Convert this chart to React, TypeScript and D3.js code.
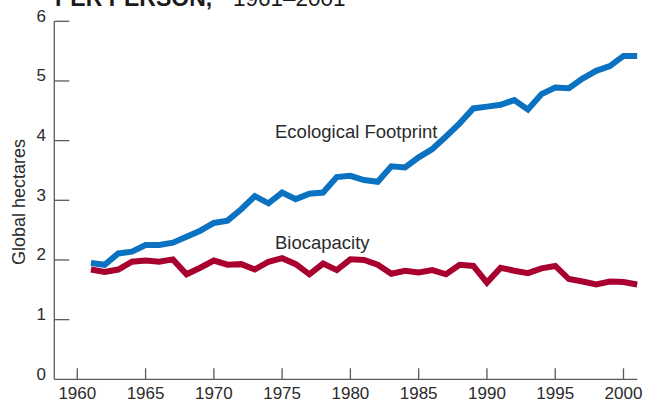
import React from "react";
import * as d3 from "d3";

const years: number[] = d3.range(1961, 2002);
const footprint: number[] = [
  1.95, 1.92, 2.11, 2.14, 2.25, 2.25, 2.29, 2.39, 2.49, 2.62,
  2.66, 2.85, 3.07, 2.95, 3.13, 3.02, 3.11, 3.13, 3.39, 3.41,
  3.34, 3.31, 3.57, 3.55, 3.72, 3.86, 4.07, 4.29, 4.54, 4.57,
  4.60, 4.68, 4.52, 4.78, 4.89, 4.88, 5.04, 5.17, 5.25, 5.42, 5.42,
];
const biocapacity: number[] = [
  1.84, 1.80, 1.84, 1.97, 1.99, 1.97, 2.01, 1.76, 1.87, 1.99,
  1.92, 1.93, 1.84, 1.97, 2.03, 1.93, 1.76, 1.94, 1.83, 2.01,
  2.00, 1.92, 1.77, 1.82, 1.79, 1.83, 1.76, 1.92, 1.90, 1.62,
  1.87, 1.82, 1.78, 1.86, 1.90, 1.68, 1.64, 1.59, 1.64, 1.63, 1.59,
];
const xTicks: number[] = [1960, 1965, 1970, 1975, 1980, 1985, 1990, 1995, 2000];
const yTicks: number[] = [0, 1, 2, 3, 4, 5, 6];
const seriesLabels: string[] = ["Ecological Footprint", "Biocapacity"];
const titleBold = "PER PERSON,";
const titleRest = "1961\u20132001";
const yTitle = "Global hectares";

const FONT = "'Liberation Sans', Arial, Helvetica, sans-serif";

export default function App() {
  const x0 = 54.3;
  const x = d3.scaleLinear().domain([1960, 2000]).range([77.3, 623.5]);
  const y = d3.scaleLinear().domain([0, 6]).range([379.3, 21.3]);
  const xEnd = x(2001);

  const line = d3
    .line<number>()
    .x((_, i) => x(years[i]))
    .y((d) => y(d))
    .curve(d3.curveLinear);

  const axisColor = "#5a5a5a";
  const textColor = "#2b2b2b";

  return (
    <svg
      width={645}
      height={401}
      style={{ position: "absolute", left: 0, top: 0, background: "#fff" }}
      fontFamily={FONT}
    >
      <text y={5.5} fontSize={23} fill="#1a1a1a">
        <tspan x={55} fontWeight="bold">{titleBold}</tspan>
        <tspan x={233} fontSize={22.5}>{titleRest}</tspan>
      </text>

      {/* y axis */}
      <line x1={x0} x2={x0} y1={y(6)} y2={y(0)} stroke={axisColor} strokeWidth={1.3} />
      {yTicks.map((t) => (
        <g key={"y" + t}>
          {t > 0 && (
            <line x1={x0} x2={x0 + 15} y1={y(t)} y2={y(t)} stroke={axisColor} strokeWidth={1.3} />
          )}
          <text x={46} y={y(t) + 0.5} textAnchor="end" fontSize={17} fill={textColor}>
            {t}
          </text>
        </g>
      ))}
      <text
        transform={`translate(25,202) rotate(-90)`}
        textAnchor="middle"
        fontSize={18}
        fill={textColor}
      >
        {yTitle}
      </text>

      {/* x axis */}
      <line x1={x0} x2={xEnd} y1={y(0)} y2={y(0)} stroke={axisColor} strokeWidth={1.3} />
      {xTicks.map((t) => (
        <g key={"x" + t}>
          <line x1={x(t)} x2={x(t)} y1={y(0)} y2={y(0) - 11} stroke={axisColor} strokeWidth={1.3} />
          <text x={x(t)} y={398.5} textAnchor="middle" fontSize={17} fill={textColor}>
            {t}
          </text>
        </g>
      ))}

      {/* lines */}
      <path
        d={line(biocapacity) || ""}
        fill="none"
        stroke="#a8002f"
        strokeWidth={6}
        strokeLinejoin="miter"
        strokeLinecap="butt"
      />
      <path
        d={line(footprint) || ""}
        fill="none"
        stroke="#0a72c0"
        strokeWidth={6}
        strokeLinejoin="miter"
        strokeLinecap="butt"
      />

      <text x={275} y={138} fontSize={18.5} fill={textColor}>
        {seriesLabels[0]}
      </text>
      <text x={275} y={249} fontSize={18.5} fill={textColor}>
        {seriesLabels[1]}
      </text>
    </svg>
  );
}
